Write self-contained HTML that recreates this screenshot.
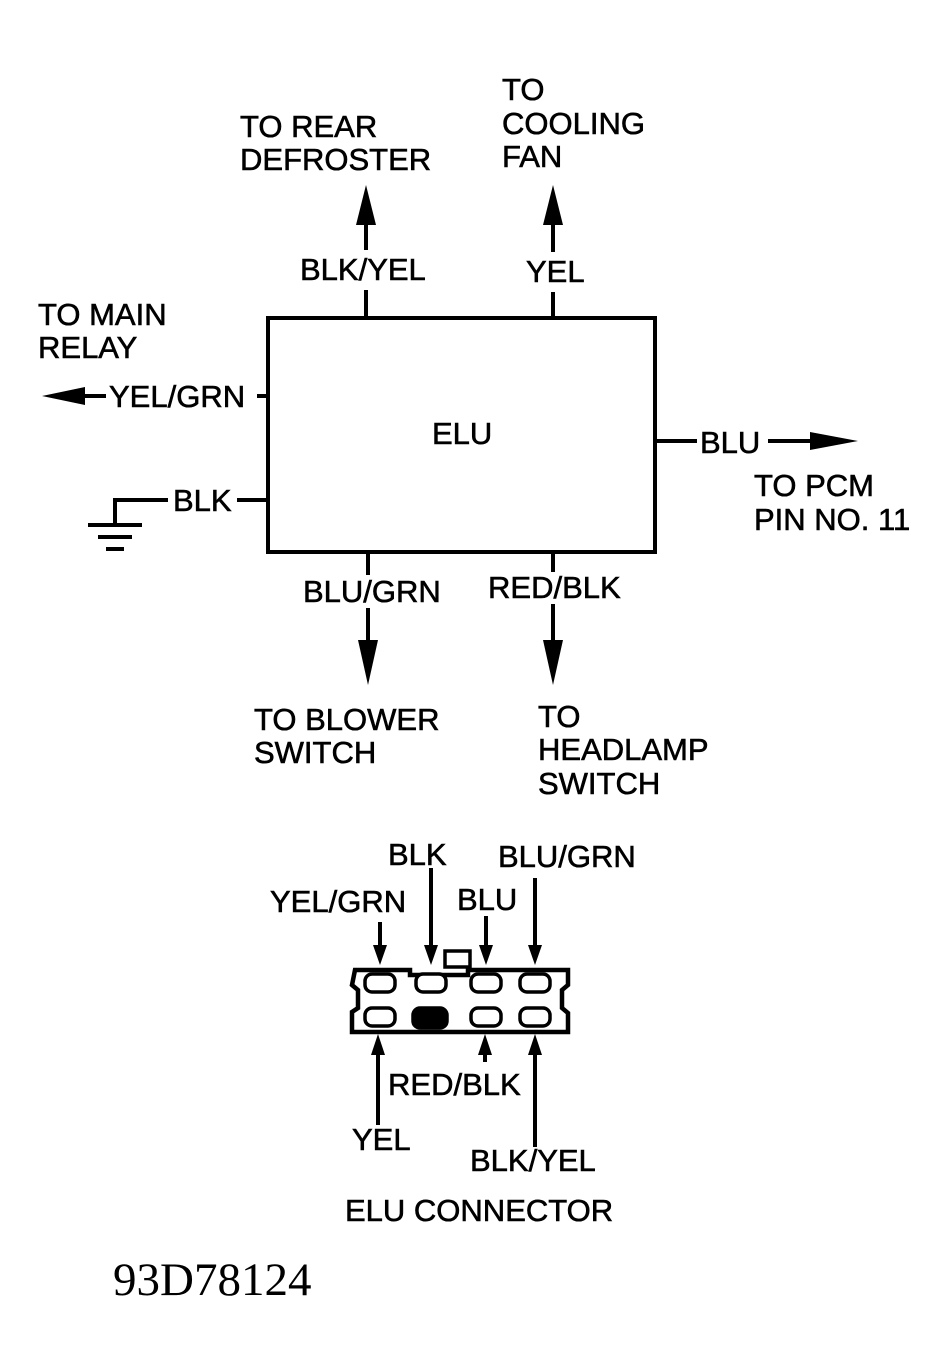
<!DOCTYPE html>
<html><head><meta charset="utf-8"><style>
html,body{margin:0;padding:0;background:#fff;}
svg{display:block;}
text{font-family:"Liberation Sans",sans-serif;font-size:31px;fill:#000;stroke:#000;stroke-width:0.6;}
</style></head><body>
<svg width="947" height="1370" viewBox="0 0 947 1370" xmlns="http://www.w3.org/2000/svg">
<g stroke="#000" stroke-width="4" fill="none">
<rect x="268" y="318" width="387" height="234"/>
<line x1="366" y1="318" x2="366" y2="290"/><line x1="366" y1="250" x2="366" y2="222"/>
<line x1="553" y1="318" x2="553" y2="292"/><line x1="553" y1="252" x2="553" y2="222"/>
<line x1="80" y1="396" x2="106" y2="396"/><line x1="257" y1="396" x2="268" y2="396"/>
<polyline points="115,525 115,500 168,500"/><line x1="237" y1="500" x2="268" y2="500"/>
<line x1="88" y1="525" x2="142" y2="525"/><line x1="98" y1="537" x2="132" y2="537"/><line x1="106" y1="549" x2="124" y2="549"/>
<line x1="655" y1="441" x2="697" y2="441"/><line x1="768" y1="441" x2="815" y2="441"/>
<line x1="368" y1="552" x2="368" y2="575"/><line x1="368" y1="608" x2="368" y2="640"/>
<line x1="553" y1="552" x2="553" y2="572"/><line x1="553" y1="604" x2="553" y2="640"/>
<line x1="380" y1="922" x2="380" y2="950"/>
<line x1="431" y1="868" x2="431" y2="950"/>
<line x1="486" y1="916" x2="486" y2="950"/>
<line x1="535" y1="878" x2="535" y2="950"/>
<line x1="378" y1="1050" x2="378" y2="1125"/>
<line x1="485" y1="1050" x2="485" y2="1062"/>
<line x1="535" y1="1050" x2="535" y2="1147"/>
<path d="M355,970 L410,970 L410,975 L468,975 L468,970 L568,970 L568,985 L562,990 L562,1008 L568,1013 L568,1032 L352,1032 L352,1012 L358,1008 L358,990 L352,985 Z" stroke-width="4.5"/>
<rect x="445" y="951" width="25" height="16" stroke-width="3.5"/>
</g>
<g fill="#000">
<polygon points="366,185 356,225 376,225"/>
<polygon points="553,185 543,225 563,225"/>
<polygon points="42,396 85,387 85,405"/>
<polygon points="858,441 810,432 810,450"/>
<polygon points="368,685 358,640 378,640"/>
<polygon points="553,685 543,640 563,640"/>
<polygon points="380,965 373,945 387,945"/>
<polygon points="431,965 424,945 438,945"/>
<polygon points="486,965 479,945 493,945"/>
<polygon points="535,965 528,945 542,945"/>
<polygon points="378,1034 371,1055 385,1055"/>
<polygon points="485,1034 478,1055 492,1055"/>
<polygon points="535,1034 528,1055 542,1055"/>
</g>
<g stroke="#000" stroke-width="3.5" fill="#fff">
<rect x="365" y="974" width="30" height="18" rx="7"/>
<rect x="416" y="974" width="30" height="18" rx="7"/>
<rect x="471" y="974" width="30" height="18" rx="7"/>
<rect x="520" y="974" width="30" height="18" rx="7"/>
<rect x="365" y="1008" width="30" height="18" rx="7"/>
<rect x="413" y="1008" width="34" height="20" rx="7" fill="#000"/>
<rect x="471" y="1008" width="30" height="18" rx="7"/>
<rect x="520" y="1008" width="30" height="18" rx="7"/>
</g>
<text x="240" y="137">TO REAR</text>
<text x="240" y="170">DEFROSTER</text>
<text x="502" y="100">TO</text>
<text x="502" y="134">COOLING</text>
<text x="502" y="167">FAN</text>
<text x="300" y="280">BLK/YEL</text>
<text x="526" y="282">YEL</text>
<text x="38" y="325">TO MAIN</text>
<text x="38" y="358">RELAY</text>
<text x="109" y="407">YEL/GRN</text>
<text x="173" y="511">BLK</text>
<text x="432" y="444">ELU</text>
<text x="700" y="453">BLU</text>
<text x="754" y="496">TO PCM</text>
<text x="754" y="530">PIN NO. 11</text>
<text x="303" y="602">BLU/GRN</text>
<text x="488" y="598">RED/BLK</text>
<text x="254" y="730">TO BLOWER</text>
<text x="254" y="763">SWITCH</text>
<text x="538" y="727">TO</text>
<text x="538" y="760">HEADLAMP</text>
<text x="538" y="794">SWITCH</text>
<text x="388" y="865">BLK</text>
<text x="498" y="867">BLU/GRN</text>
<text x="270" y="912">YEL/GRN</text>
<text x="457" y="910">BLU</text>
<text x="388" y="1095">RED/BLK</text>
<text x="352" y="1150">YEL</text>
<text x="470" y="1171">BLK/YEL</text>
<text x="345" y="1221">ELU CONNECTOR</text>
<text x="113" y="1295" style="font-family:'Liberation Serif',serif;font-size:47px;stroke-width:0">93D78124</text>
</svg>
</body></html>
